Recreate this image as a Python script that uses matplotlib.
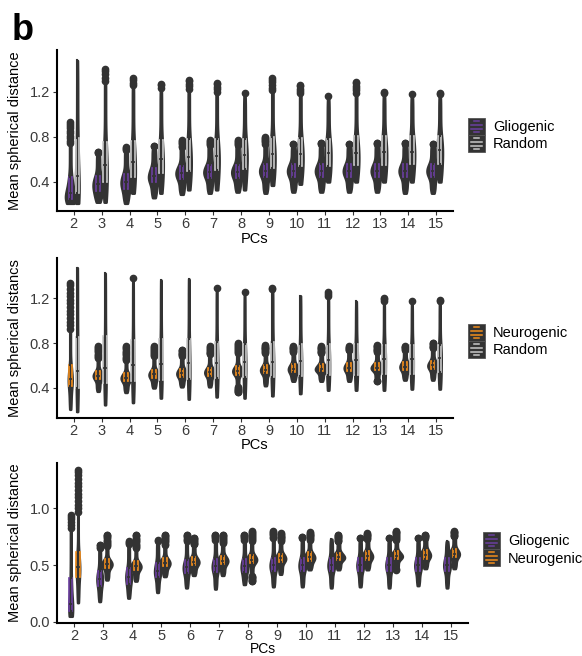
import numpy as np
import matplotlib.pyplot as plt
from matplotlib.patches import Rectangle
from matplotlib.lines import Line2D

plt.rcParams['font.family'] = ['Liberation Sans', 'DejaVu Sans']

pcs = list(range(2, 16))

# quantiles for every violin: min, q1, median, q3, max
# panel 1: Gliogenic vs Random
glio1_lo = [0.21, 0.22, 0.21, 0.26, 0.29, 0.30, 0.31, 0.30, 0.31, 0.31, 0.31, 0.31, 0.30, 0.30]
glio1_q1 = [0.25, 0.32, 0.34, 0.40, 0.43, 0.44, 0.44, 0.45, 0.45, 0.45, 0.45, 0.45, 0.45, 0.45]
glio1_md = [0.30, 0.38, 0.40, 0.45, 0.48, 0.49, 0.49, 0.50, 0.50, 0.50, 0.50, 0.50, 0.50, 0.50]
glio1_q3 = [0.44, 0.45, 0.47, 0.52, 0.54, 0.55, 0.55, 0.56, 0.56, 0.56, 0.56, 0.56, 0.56, 0.56]
glio1_hi = [0.93, 0.67, 0.71, 0.72, 0.77, 0.77, 0.77, 0.80, 0.74, 0.75, 0.74, 0.75, 0.75, 0.74]

rand1_lo = [0.21, 0.22, 0.30, 0.30, 0.33, 0.33, 0.33, 0.37, 0.38, 0.40, 0.40, 0.40, 0.40, 0.40]
rand1_q1 = [0.30, 0.40, 0.45, 0.48, 0.50, 0.51, 0.52, 0.53, 0.54, 0.54, 0.55, 0.55, 0.56, 0.56]
rand1_md = [0.45, 0.55, 0.58, 0.60, 0.62, 0.63, 0.64, 0.65, 0.65, 0.66, 0.66, 0.67, 0.67, 0.68]
rand1_q3 = [0.78, 0.75, 0.76, 0.77, 0.78, 0.78, 0.78, 0.79, 0.79, 0.78, 0.80, 0.80, 0.80, 0.80]
rand1_hi = [1.48, 1.40, 1.32, 1.27, 1.31, 1.28, 1.19, 1.32, 1.26, 1.16, 1.29, 1.20, 1.18, 1.19]

# panel 2: Neurogenic vs Random
neur2_lo = [0.21, 0.37, 0.36, 0.40, 0.41, 0.41, 0.36, 0.42, 0.46, 0.46, 0.46, 0.46, 0.47, 0.47]
neur2_q1 = [0.42, 0.48, 0.46, 0.49, 0.50, 0.51, 0.52, 0.53, 0.54, 0.55, 0.55, 0.56, 0.56, 0.57]
neur2_md = [0.48, 0.51, 0.49, 0.52, 0.53, 0.54, 0.55, 0.56, 0.57, 0.57, 0.58, 0.58, 0.59, 0.60]
neur2_q3 = [0.60, 0.55, 0.53, 0.56, 0.57, 0.58, 0.59, 0.60, 0.61, 0.61, 0.62, 0.62, 0.63, 0.64]
neur2_hi = [1.33, 0.77, 0.77, 0.77, 0.74, 0.77, 0.80, 0.78, 0.77, 0.77, 0.77, 0.78, 0.77, 0.80]

rand2_lo = [0.19, 0.25, 0.27, 0.31, 0.30, 0.32, 0.31, 0.33, 0.35, 0.38, 0.38, 0.38, 0.39, 0.39]
rand2_q1 = [0.40, 0.45, 0.46, 0.47, 0.48, 0.49, 0.50, 0.50, 0.51, 0.52, 0.52, 0.53, 0.53, 0.54]
rand2_md = [0.55, 0.58, 0.60, 0.61, 0.62, 0.62, 0.63, 0.63, 0.64, 0.65, 0.65, 0.66, 0.66, 0.67]
rand2_q3 = [0.85, 0.86, 0.82, 0.83, 0.83, 0.80, 0.79, 0.80, 0.79, 0.79, 0.79, 0.78, 0.78, 0.78]
rand2_hi = [1.47, 1.42, 1.38, 1.36, 1.37, 1.29, 1.25, 1.29, 1.22, 1.25, 1.17, 1.20, 1.17, 1.18]

# panel 3: Gliogenic vs Neurogenic
glio3_lo = [0.05, 0.18, 0.21, 0.26, 0.30, 0.29, 0.33, 0.31, 0.31, 0.30, 0.31, 0.30, 0.32, 0.30]
glio3_q1 = [0.10, 0.32, 0.34, 0.40, 0.43, 0.44, 0.44, 0.45, 0.45, 0.45, 0.45, 0.45, 0.45, 0.45]
glio3_md = [0.16, 0.38, 0.40, 0.45, 0.48, 0.49, 0.49, 0.50, 0.50, 0.50, 0.50, 0.50, 0.50, 0.50]
glio3_q3 = [0.38, 0.45, 0.47, 0.52, 0.54, 0.55, 0.55, 0.56, 0.56, 0.56, 0.56, 0.56, 0.56, 0.56]
glio3_hi = [0.94, 0.68, 0.71, 0.72, 0.77, 0.77, 0.77, 0.80, 0.75, 0.73, 0.74, 0.74, 0.74, 0.71]

neur3_lo = [0.17, 0.37, 0.36, 0.40, 0.41, 0.41, 0.36, 0.42, 0.46, 0.46, 0.46, 0.46, 0.47, 0.47]
neur3_q1 = [0.40, 0.48, 0.46, 0.49, 0.50, 0.51, 0.52, 0.53, 0.54, 0.55, 0.55, 0.56, 0.56, 0.57]
neur3_md = [0.48, 0.51, 0.49, 0.52, 0.53, 0.54, 0.55, 0.56, 0.57, 0.57, 0.58, 0.58, 0.59, 0.60]
neur3_q3 = [0.61, 0.55, 0.53, 0.56, 0.57, 0.58, 0.59, 0.60, 0.61, 0.61, 0.62, 0.62, 0.63, 0.64]
neur3_hi = [1.34, 0.77, 0.77, 0.77, 0.74, 0.77, 0.80, 0.78, 0.79, 0.77, 0.78, 0.80, 0.77, 0.80]

DARK = '#333333'
PURPLE = '#6B3FA0'
ORANGE = '#F28E1C'
LIGHT = '#C8C8C8'

W, H = 582, 656
fig = plt.figure(figsize=(W / 100, H / 100), dpi=100)


def px_axes(l, t, r, b):
    return fig.add_axes([l / W, 1 - b / H, (r - l) / W, (b - t) / H])


def make_sample(lo, q1, md, q3, hi, n=90):
    # ordered sample following the read quantiles, so KDE / box stats can be computed
    p = (np.arange(n) + 0.5) / n
    p = np.concatenate([[0.0], p, [1.0]])
    return np.interp(p, [0, 0.25, 0.5, 0.75, 1], [lo, q1, md, q3, hi])


def kde(s, lo, hi):
    iqr = np.subtract(*np.percentile(s, [75, 25]))
    bw = 0.9 * min(s.std(), iqr / 1.34) * 40 ** -0.2
    y = np.linspace(lo, hi, 200)
    d = np.exp(-0.5 * ((y[:, None] - s[None, :]) / bw) ** 2).sum(1) / (len(s) * bw * np.sqrt(2 * np.pi))
    return y, d


def draw_panel(ax, groups):
    x = np.arange(len(pcs))
    dens = []
    for gi, (q, color) in enumerate(groups):
        for i in range(len(pcs)):
            s = make_sample(q[0][i], q[1][i], q[2][i], q[3][i], q[4][i])
            y, d = kde(s, q[0][i], q[4][i])
            dens.append((gi, i, s, y, d))
    dmax = max(d.max() for *_, d in dens)
    offs = [-0.125, 0.125]
    for gi, i, s, y, d in dens:
        w = d / dmax * 0.21
        ax.fill_betweenx(y, x[i] + offs[gi] - w, x[i] + offs[gi] + w,
                         facecolor=DARK, edgecolor=DARK, lw=1.8, zorder=2)
    for gi, (q, color) in enumerate(groups):
        samp = [s for g, i, s, y, d in dens if g == gi]
        ax.boxplot(samp, positions=x + offs[gi], widths=0.12, patch_artist=True,
                   manage_ticks=False, zorder=3,
                   boxprops=dict(facecolor=DARK, edgecolor=color, lw=1.2),
                   medianprops=dict(color=DARK, lw=1.2),
                   whiskerprops=dict(color=DARK, lw=1.5),
                   capprops=dict(visible=False),
                   flierprops=dict(marker='o', markerfacecolor=DARK, markeredgecolor=DARK,
                                   markersize=4.5))


def style(ax, ylim, yticks, ylabel, bottom_px, top_px, right_px, xlab_off):
    ax.set_xlim(-0.6, len(pcs) - 0.4)
    ax.set_ylim(*ylim)
    ax.set_xticks(range(len(pcs)))
    ax.set_xticklabels([str(p) for p in pcs])
    ax.set_yticks(yticks)
    ax.set_yticklabels([f'{t:.1f}' for t in yticks])
    for sp in ['top', 'right']:
        ax.spines[sp].set_visible(False)
    for sp in ['left', 'bottom']:
        ax.spines[sp].set_linewidth(1.5)
        ax.spines[sp].set_color('black')
    ax.tick_params(length=3, width=0.8, color=DARK, labelcolor='#3a3a3a', labelsize=10.5, pad=2)
    ax.tick_params(axis='x', pad=1.5)
    h = bottom_px - top_px
    ax.set_ylabel(ylabel, fontsize=10.5, color='black')
    ax.yaxis.set_label_coords(-35 / (right_px - 57), 0.5)
    ax.set_xlabel('PCs', fontsize=10.5, color='black')
    ax.xaxis.set_label_coords(0.5, -xlab_off / h)


def legend_key(x0, y0, labels, colors):
    # two stacked ggplot-style keys starting at pixel (x0, y0)
    size = 17
    for k, (lab, col) in enumerate(zip(labels, colors)):
        top = y0 + k * size
        fig.add_artist(Rectangle((x0 / W, 1 - (top + size) / H), size / W, size / H,
                                 transform=fig.transFigure, facecolor=DARK,
                                 edgecolor='#555555', lw=0.6))
        for fy, a, b in [(0.18, 0.35, 0.65), (0.4, 0.15, 0.85), (0.62, 0.15, 0.85), (0.84, 0.35, 0.65)]:
            yy = 1 - (top + fy * size) / H
            fig.add_artist(Line2D([(x0 + a * size) / W, (x0 + b * size) / W], [yy, yy],
                                  transform=fig.transFigure, color=col, lw=1.1))
        fig.text((x0 + 25) / W, 1 - (top + size / 2 + 1) / H, lab, fontsize=10.5,
                 va='center', ha='left', color='black')


# panel 1
ax1 = px_axes(57, 50, 453, 211)
draw_panel(ax1, [((glio1_lo, glio1_q1, glio1_md, glio1_q3, glio1_hi), PURPLE),
                 ((rand1_lo, rand1_q1, rand1_md, rand1_q3, rand1_hi), LIGHT)])
style(ax1, (0.142, 1.573), [0.4, 0.8, 1.2], 'Mean spherical distance', 211, 50, 453, 21)
legend_key(468, 118, ['Gliogenic', 'Random'], [PURPLE, LIGHT])

# panel 2
ax2 = px_axes(57, 258, 453, 418)
draw_panel(ax2, [((neur2_lo, neur2_q1, neur2_md, neur2_q3, neur2_hi), ORANGE),
                 ((rand2_lo, rand2_q1, rand2_md, rand2_q3, rand2_hi), LIGHT)])
style(ax2, (0.133, 1.556), [0.4, 0.8, 1.2], 'Mean spherical distancs', 418, 258, 453, 20)
legend_key(468, 324, ['Neurogenic', 'Random'], [ORANGE, LIGHT])

# panel 3
ax3 = px_axes(57, 463, 468, 623)
draw_panel(ax3, [((glio3_lo, glio3_q1, glio3_md, glio3_q3, glio3_hi), PURPLE),
                 ((neur3_lo, neur3_q1, neur3_md, neur3_q3, neur3_hi), ORANGE)])
style(ax3, (-0.009, 1.40), [0.0, 0.5, 1.0], 'Mean spherical distance', 623, 463, 468, 19)
ax3.xaxis.label.set_fontsize(10)
legend_key(483, 532, ['Gliogenic', 'Neurogenic'], [PURPLE, ORANGE])

fig.text(12 / W, 1 - 30 / H, 'b', fontsize=26, fontweight='bold', va='center', ha='left')

fig.savefig('out.png', dpi=100)
